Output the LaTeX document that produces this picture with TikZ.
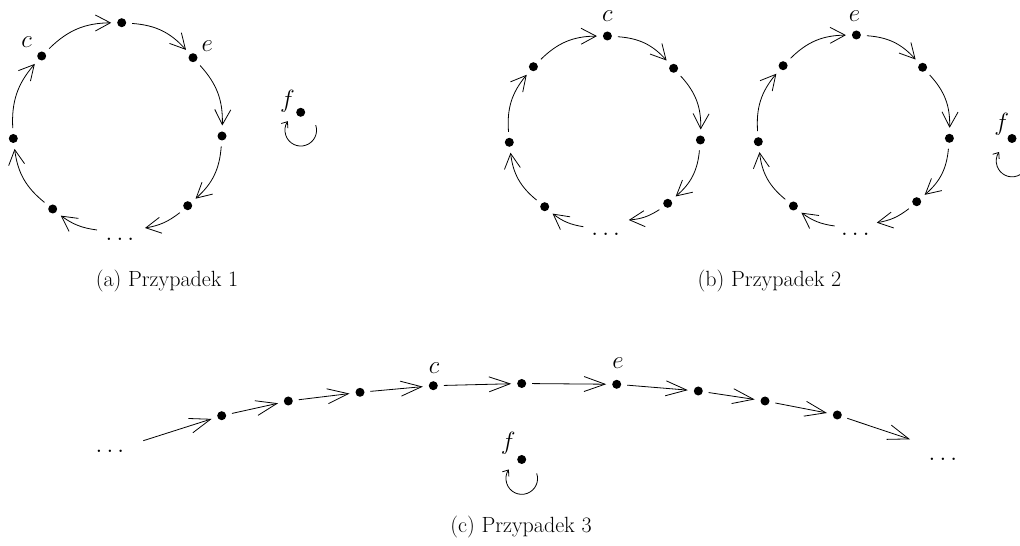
\documentclass[tikz,border=0pt]{standalone}
\usetikzlibrary{arrows.meta}
\begin{document}
\begin{tikzpicture}[x=1pt,y=1pt,
  dot/.style={circle,fill=black,minimum size=9pt,inner sep=0pt,outer sep=6pt},
  dotsnode/.style={font=\fontsize{37}{42}\selectfont,inner sep=0pt,anchor=base},
  lbl/.style={font=\fontsize{32}{38}\selectfont,inner sep=0pt},
  captext/.style={font=\fontsize{22}{26}\selectfont,inner sep=0pt,anchor=base},
  arr/.style={-{Straight Barb[length=15pt,width=16pt]},line width=0.8pt},
  arrc/.style={-{Straight Barb[length=21pt,width=15pt]},line width=0.8pt},
  looparr/.style={-{Straight Barb[length=5pt,width=8pt]},line width=0.8pt}]
\useasboundingbox (0,0) rectangle (1020,546);

% ---------- panel (a) ----------
\node[dot] (aT) at (121.7,523.3) {};
\node[dot] (aE) at (193,488.3) {};
\node[dot] (aR) at (222,410) {};
\node[dot] (aLR) at (187.7,340.3) {};
\node[dotsnode] (aD) at (120,305) {$\ldots$};
\coordinate (aDi) at (145,318);
\coordinate (aDo) at (97,316);
\node[dot] (aLL) at (52.7,337) {};
\node[dot] (aL) at (13.3,407.5) {};
\node[dot] (aC) at (41.7,490) {};
\node[lbl] (aCl) at (26.7,504.3) {$c$};
\node[lbl] (aEl) at (207.3,500.3) {$e$};
\draw[arr] (aC) to[bend left=22] (aT);
\draw[arr] (aT) to[bend left=22] (aE);
\draw[arr] (aE) to[bend left=22] (aR);
\draw[arr] (aR) to[bend left=22] (aLR);
\draw[arr] (aLR) to[bend left=14] (aDi);
\draw[arr] (aDo) to[bend left=14] (aLL);
\draw[arr] (aLL) to[bend left=22] (aL);
\draw[arr] (aL) to[bend left=22] (aC);
\node[dot] (af) at (300.7,433.7) {};
\node[lbl] (afl) at (287.5,444.3) {$f$};
\draw[looparr] (af.center) ++(15,-12.8) arc[start angle=19,end angle=-215,radius=15.8];
\node[captext] (capa) at (167,259) {(a) Przypadek 1};

% ---------- panel (b), left cycle ----------
\node[dot] (bT) at (607.4,510) {};
\node[dot] (bUR) at (673.6,477.7) {};
\node[dot] (bR) at (700.4,406) {};
\node[dot] (bLR) at (667.7,342.7) {};
\node[dotsnode] (bD) at (605.7,310) {$\ldots$};
\coordinate (bDi) at (628.8,326);
\coordinate (bDo) at (583.3,319.3);
\node[dot] (bLL) at (544.7,339.3) {};
\node[dot] (bL) at (509.3,403.7) {};
\node[dot] (bUL) at (533.4,479.3) {};
\node[lbl] (bTl) at (607.4,529.5) {$c$};
\draw[arr] (bUL) to[bend left=22] (bT);
\draw[arr] (bT) to[bend left=22] (bUR);
\draw[arr] (bUR) to[bend left=22] (bR);
\draw[arr] (bR) to[bend left=22] (bLR);
\draw[arr] (bLR) to[bend left=14] (bDi);
\draw[arr] (bDo) to[bend left=14] (bLL);
\draw[arr] (bLL) to[bend left=22] (bL);
\draw[arr] (bL) to[bend left=22] (bUL);

% ---------- panel (b), right cycle ----------
\node[dot] (dT) at (856.4,511) {};
\node[dot] (dUR) at (922.6,478.7) {};
\node[dot] (dR) at (949.4,407.7) {};
\node[dot] (dLR) at (916.7,344.3) {};
\node[dotsnode] (dD) at (855.4,310.7) {$\ldots$};
\coordinate (dDi) at (876.8,323.3);
\coordinate (dDo) at (834.7,320);
\node[dot] (dLL) at (793.4,340) {};
\node[dot] (dL) at (758.3,404.3) {};
\node[dot] (dUL) at (783.1,480.3) {};
\node[lbl] (dTl) at (854.4,530) {$e$};
\draw[arr] (dUL) to[bend left=22] (dT);
\draw[arr] (dT) to[bend left=22] (dUR);
\draw[arr] (dUR) to[bend left=22] (dR);
\draw[arr] (dR) to[bend left=22] (dLR);
\draw[arr] (dLR) to[bend left=14] (dDi);
\draw[arr] (dDo) to[bend left=14] (dLL);
\draw[arr] (dLL) to[bend left=22] (dL);
\draw[arr] (dL) to[bend left=22] (dUL);
\node[dot] (bf) at (1012,407.5) {};
\node[lbl] (bfl) at (1001.7,421.8) {$f$};
\draw[looparr] (bf.center) ++(15,-17.4) arc[start angle=19,end angle=-215,radius=15.8];
\node[captext] (capb) at (769.5,259) {(b) Przypadek 2};

% ---------- panel (c) ----------
\node[dotsnode] (pLD) at (110,93) {$\ldots$};
\coordinate (pLo) at (143.3,105.3);
\node[dot] (p1) at (221.7,130.3) {};
\node[dot] (p2) at (288.3,145) {};
\node[dot] (p3) at (360,153.7) {};
\node[dot] (pc) at (433.3,160.3) {};
\node[dot] (p5) at (521.7,162.5) {};
\node[dot] (pe) at (616.7,161.7) {};
\node[dot] (p7) at (698.3,155) {};
\node[dot] (p8) at (765,145) {};
\node[dot] (p9) at (837.3,131) {};
\coordinate (pRi) at (910,106.7);
\node[dotsnode] (pRD) at (943,85.7) {$\ldots$};
\node[lbl] (pcl) at (434,177.7) {$c$};
\node[lbl] (pel) at (618,182.7) {$e$};
\draw[arrc] (pLo) -- (p1);
\draw[arrc] (p1) -- (p2);
\draw[arrc] (p2) -- (p3);
\draw[arrc] (p3) -- (pc);
\draw[arrc] (pc) -- (p5);
\draw[arrc] (p5) -- (pe);
\draw[arrc] (pe) -- (p7);
\draw[arrc] (p7) -- (p8);
\draw[arrc] (p8) -- (p9);
\draw[arrc] (p9) -- (pRi);
\node[dot] (pf) at (521.7,86.5) {};
\node[lbl] (pfl) at (508.3,102.7) {$f$};
\draw[looparr] (pf.center) ++(15,-13.9) arc[start angle=19,end angle=-215,radius=15.8];
\node[captext] (capc) at (521,13) {(c) Przypadek 3};
\end{tikzpicture}
\end{document}
